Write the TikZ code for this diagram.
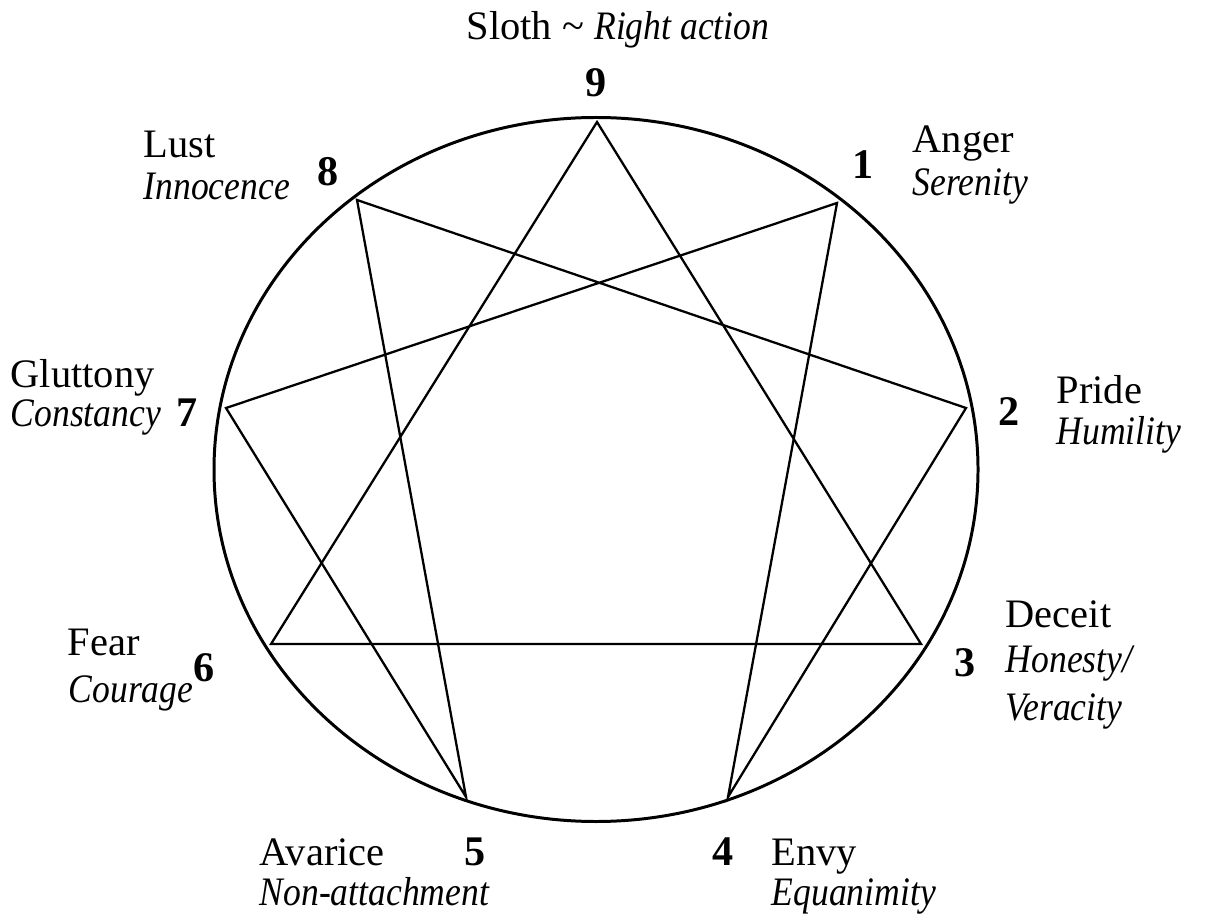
\documentclass[tikz,border=0pt]{standalone}
\usepackage{fontspec}
\setmainfont{Liberation Serif}[ItalicFeatures={FakeStretch=0.88}]
\usetikzlibrary{positioning}

\begin{document}
\begin{tikzpicture}[
    x=0.01cm, y=-0.01cm,
    font=\fontsize{11.5}{12}\selectfont,
    num/.style={font=\fontsize{12}{12}\selectfont\bfseries, inner sep=0pt},
    sin/.style={anchor=base west, inner sep=0pt},
    virtue/.style={anchor=base west, inner sep=0pt, font=\fontsize{11.5}{12}\selectfont\itshape},
    rim/.style={line width=0.85pt},
    edge/.style={line width=0.65pt, line join=miter}
  ]
    \useasboundingbox (0,0) rectangle (1207,916);

    % outer ring
    \draw[rim] (596,469.5) ellipse [x radius=382, y radius=352];

    % points on the ring
    \coordinate (p9) at (597,122);
    \coordinate (p1) at (837,203);
    \coordinate (p2) at (966,408);
    \coordinate (p3) at (921,644);
    \coordinate (p4) at (728,797);
    \coordinate (p5) at (466,797);
    \coordinate (p6) at (271,644);
    \coordinate (p7) at (226,408);
    \coordinate (p8) at (357,200);

    % triangle and hexad
    \draw[edge] (p9) -- (p3) -- (p6) -- cycle;
    \draw[edge] (p1) -- (p4) -- (p2) -- (p8) -- (p5) -- (p7) -- cycle;

    % numbers
    \node[num] (n9) at (596,83) {9};
    \node[num] (n1) at (863,165) {1};
    \node[num] (n2) at (1009,412) {2};
    \node[num] (n3) at (965,663) {3};
    \node[num] (n4) at (723,852) {4};
    \node[num] (n5) at (475,852) {5};
    \node[num] (n6) at (204,668) {6};
    \node[num] (n7) at (187,413) {7};
    \node[num] (n8) at (328,172) {8};

    % sins and virtues
    \node[anchor=base, inner sep=0pt] (s9) at (618,40) {Sloth \textasciitilde{} \textit{Right action}};

    \node[sin] (s1) at (912,153) {Anger};
    \node[virtue] (v1) at (912,196) {Serenity};

    \node[sin] (s2) at (1056,403) {Pride};
    \node[virtue] (v2) at (1056,445) {Humility};

    \node[sin] (s3) at (1005,627) {Deceit};
    \node[virtue] (v3) at (1005,672) {Honesty/};
    \node[virtue] (v3b) at (1005,720) {Veracity};

    \node[sin] (s4) at (771,865) {Envy};
    \node[virtue] (v4) at (771,905) {Equanimity};

    \node[sin] (s5) at (259,865) {Avarice};
    \node[virtue] (v5) at (259,905) {Non-attachment};

    \node[sin] (s6) at (67,655) {Fear};
    \node[virtue] (v6) at (68,702) {Courage};

    \node[sin] (s7) at (10,388) {Gluttony};
    \node[virtue] (v7) at (10,427) {Constancy};

    \node[sin] (s8) at (143,158) {Lust};
    \node[virtue] (v8) at (143,200) {Innocence};
  \end{tikzpicture}
\end{document}
